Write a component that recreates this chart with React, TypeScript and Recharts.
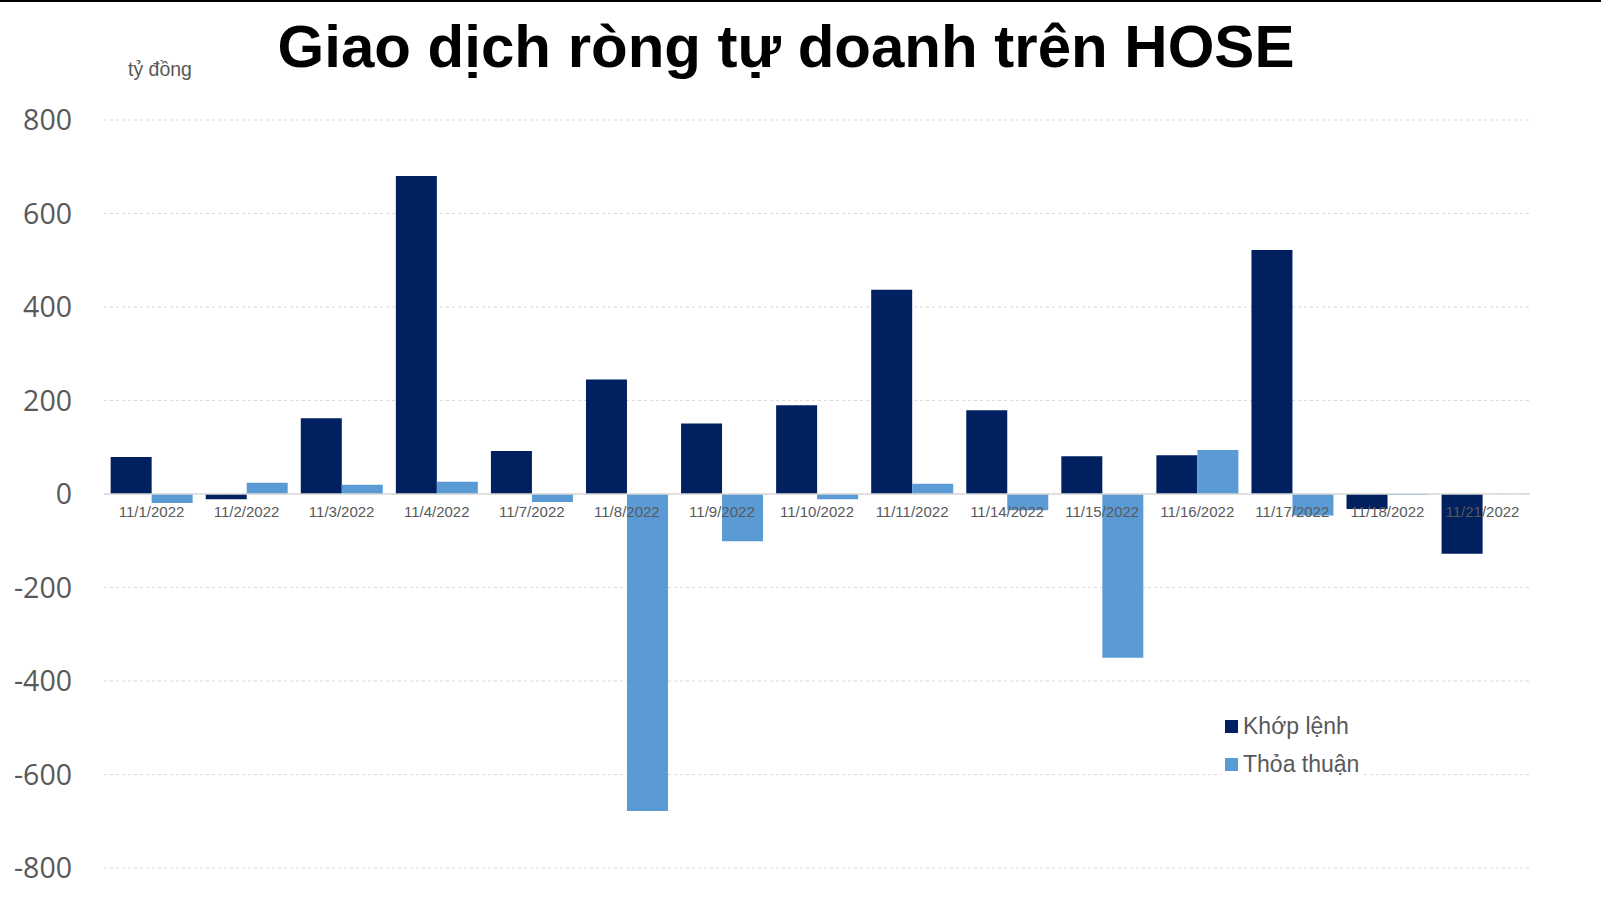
import { BarChart, Bar, XAxis, YAxis, CartesianGrid, ReferenceLine } from "recharts";

const DATES = [
  "11/1/2022", "11/2/2022", "11/3/2022", "11/4/2022", "11/7/2022",
  "11/8/2022", "11/9/2022", "11/10/2022", "11/11/2022", "11/14/2022",
  "11/15/2022", "11/16/2022", "11/17/2022", "11/18/2022", "11/21/2022",
];
const KHOP_LENH = [79, -11, 162, 680, 92, 245, 151, 190, 437, 179, 81, 83, 522, -32, -128];
const THOA_THUAN = [-19, 24, 20, 26, -17, -678, -101, -11, 22, -35, -350, 94, -46, -2, 0];
const Y_TICKS = [-800, -600, -400, -200, 0, 200, 400, 600, 800];
const SERIES = [
  { key: "khop", name: "Khớp lệnh", color: "#002060" },
  { key: "thoa", name: "Thỏa thuận", color: "#5B9BD5" },
];

const data = DATES.map((d, i) => ({ date: d, khop: KHOP_LENH[i], thoa: THOA_THUAN[i] }));

const W = 1601;
const H = 901;
const TOP = 120;
const X_AXIS_H = 33;
const PLOT_H = H - TOP - X_AXIS_H;
const GREY = "#595959";
const FONT = "'Liberation Sans', Arial, sans-serif";

// date labels sit just under the zero line, not at the bottom of the plot
function DateTick(props: any) {
  const { x, payload } = props;
  const zeroY = TOP + PLOT_H / 2;
  return (
    <text x={x} y={zeroY + 23} textAnchor="middle" fontSize={15} fill={GREY} fontFamily={FONT}>
      {payload.value}
    </text>
  );
}

export default function App() {
  return (
    <div style={{ position: "fixed", left: 0, top: 0, width: W, height: H, background: "#fff", borderTop: "2px solid #000", boxSizing: "border-box" }}>
      <div
        style={{
          position: "absolute", left: 0, top: 12, width: 1572, textAlign: "center",
          fontFamily: FONT, fontWeight: 700, fontSize: 60, color: "#000", lineHeight: "66px",
        }}
      >
        Giao dịch ròng tự doanh trên HOSE
      </div>
      <div style={{ position: "absolute", left: 128, top: 56, fontFamily: FONT, fontSize: 19.5, color: GREY }}>
        tỷ đồng
      </div>
      <div style={{ position: "absolute", left: 0, top: -2 }}>
        <BarChart width={W} height={H} data={data} margin={{ top: TOP, right: 71, bottom: 0, left: 0 }} barGap={0} barCategoryGap="7%">
          <CartesianGrid vertical={false} stroke="#d9d9d9" strokeDasharray="3 3" />
          <YAxis
            domain={[-800, 800]}
            ticks={Y_TICKS}
            width={104}
            axisLine={false}
            tickLine={false}
            tickSize={0}
            tickMargin={32}
            tick={{ fontSize: 28.5, fill: GREY, fontFamily: "'Open Sans', sans-serif" }}
          />
          <XAxis dataKey="date" height={X_AXIS_H} axisLine={false} tickLine={false} interval={0} tick={<DateTick />} />
          {SERIES.map((s) => (
            <Bar key={s.key} dataKey={s.key} name={s.name} fill={s.color} isAnimationActive={false} />
          ))}
          <ReferenceLine y={0} stroke="#d9d9d9" strokeWidth={1.5} />
        </BarChart>
      </div>
      <div style={{ position: "absolute", left: 1221, top: 705, fontFamily: FONT, fontSize: 23, color: GREY, background: "#fff", padding: "0 4px" }}>
        {SERIES.map((s) => (
          <div key={s.key} style={{ display: "flex", alignItems: "center", height: 38 }}>
            <span style={{ width: 13, height: 13, background: s.color, marginRight: 5, display: "inline-block" }} />
            {s.name}
          </div>
        ))}
      </div>
    </div>
  );
}
